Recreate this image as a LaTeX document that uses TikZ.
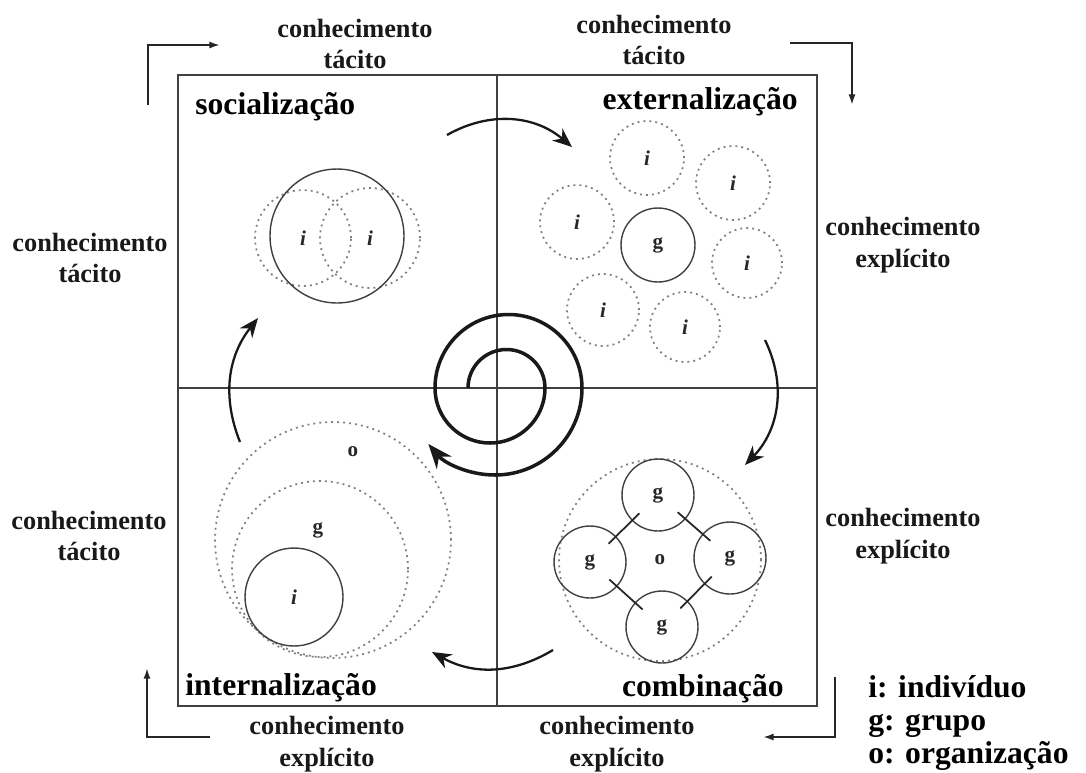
\documentclass[tikz,border=0pt]{standalone}
\usepackage{fontspec}
\setmainfont{Liberation Serif}
\usetikzlibrary{arrows.meta}
\begin{document}
\begin{tikzpicture}[x=0.02cm,y=-0.02cm,
  lbl/.style={font=\bfseries\fontsize{15}{18}\selectfont, align=center, text=black!90, inner sep=0pt},
  quad/.style={font=\bfseries\fontsize{18}{21}\selectfont, inner sep=0pt},
  letter/.style={font=\bfseries\fontsize{12}{12}\selectfont, inner sep=0pt, text=black!85},
  dotc/.style={circle, draw=black!50, dash pattern=on 1.1pt off 2.3pt, line width=1pt, inner sep=0pt, letter},
  solc/.style={circle, draw=black!75, line width=0.8pt, inner sep=0pt, letter},
  cyc/.style={line width=1.3pt, black!90, -{Stealth[length=11pt,width=9pt]}},
  corner/.style={line width=1.1pt, black!85, -{Latex[length=6pt,width=4pt]}},
  spiral/.style={line width=2pt, black!90, -{Stealth[length=14pt,width=11pt]}},
  frame/.style={line width=0.9pt, black!75}
]
\useasboundingbox (0,0) rectangle (1086,772);
% frame and axes
\draw[frame] (178,75) rectangle (817,706);
\draw[frame] (497,75) -- (497,706);
\draw[frame] (178,388) -- (817,388);

% outside labels
\node[lbl] (tl) at (355,44) {conhecimento\\tácito};
\node[lbl] (tr) at (654,40) {conhecimento\\tácito};
\node[lbl] (lu) at (90,258) {conhecimento\\tácito};
\node[lbl] (ru) at (903,245) {conhecimento\\explícito};
\node[lbl] (ll) at (89,536) {conhecimento\\tácito};
\node[lbl] (rl) at (903,536) {conhecimento\\explícito};
\node[lbl] (bl) at (327,744) {conhecimento\\explícito};
\node[lbl] (br) at (617,744) {conhecimento\\explícito};

% quadrant labels
\node[quad, anchor=west] (soc) at (195,107) {socialização};
\node[quad, anchor=east] (ext) at (798,102) {externalização};
\node[quad, anchor=west] (int) at (185,688) {internalização};
\node[quad, anchor=east] (com) at (784,689) {combinação};

% legend
\node[font=\bfseries\fontsize{18}{19}\selectfont, align=left, anchor=west, inner sep=0pt] (leg) at (868,723)
  {i: indivíduo\\g: grupo\\o: organização};

% corner arrows
\coordinate (c1a) at (148,105); \coordinate (c1b) at (220,45);
\coordinate (c2a) at (790,43);  \coordinate (c2b) at (852,105);
\coordinate (c3a) at (210,737); \coordinate (c3b) at (147,668);
\coordinate (c4a) at (835,677); \coordinate (c4b) at (763,737);
\draw[corner] (c1a) |- (c1b);
\draw[corner] (c2a) -| (c2b);
\draw[corner] (c3a) -| (c3b);
\draw[corner] (c4a) |- (c4b);

% socialization circles
\node[dotc, minimum size=1.92cm] (s1) at (303,238) {};
\node[dotc, minimum size=2.0cm] (s2) at (370,238) {};
\node[solc, minimum size=2.68cm] (s0) at (337,236) {};
\node[letter] (si1) at (303,238) {\itshape i};
\node[letter] (si2) at (370,238) {\itshape i};

% externalization circles
\node[solc, minimum size=1.48cm] (eg) at (658,245) {g};
\node[dotc, minimum size=1.48cm] (e1) at (647,158) {\itshape i};
\node[dotc, minimum size=1.48cm] (e2) at (733,183) {\itshape i};
\node[dotc, minimum size=1.48cm] (e3) at (577,222) {\itshape i};
\node[dotc, minimum size=1.40cm] (e4) at (747,263) {\itshape i};
\node[dotc, minimum size=1.44cm] (e5) at (603,310) {\itshape i};
\node[dotc, minimum size=1.40cm] (e6) at (685,327) {\itshape i};

% internalization circles
\node[dotc, minimum size=4.72cm] (io) at (333,540) {};
\node[dotc, minimum size=3.52cm] (ig) at (320,569) {};
\node[solc, minimum size=1.96cm] (ii) at (294,597) {\itshape i};
\node[letter] (iol) at (353,452) {o};
\node[letter] (igl) at (318,530) {g};

% combination circles
\node[dotc, minimum size=4.04cm] (co) at (660,560) {o};
\node[solc, minimum size=1.44cm] (cg1) at (658,495) {g};
\node[solc, minimum size=1.44cm] (cg2) at (590,562) {g};
\node[solc, minimum size=1.44cm] (cg3) at (730,558) {g};
\node[solc, minimum size=1.44cm] (cg4) at (662,627) {g};
\foreach \a/\b in {cg1/cg2, cg1/cg3, cg2/cg4, cg3/cg4}
  \draw[line width=1pt, black!85, shorten <=-6pt, shorten >=-6pt] (\a) -- (\b);

% cycle arrows
\coordinate (t1) at (447,135); \coordinate (t2) at (572,147);
\coordinate (r1) at (765,340); \coordinate (r2) at (745,465);
\coordinate (b1) at (553,650); \coordinate (b2) at (432,652);
\coordinate (l1) at (240,442); \coordinate (l2) at (258,318);
\draw[cyc] (t1) to[bend left=35] (t2);
\draw[cyc] (r1) to[bend left=35] (r2);
\draw[cyc] (b1) to[bend left=30] (b2);
\draw[cyc] (l1) to[bend left=30] (l2);

% spiral
\coordinate (sp0) at (468,388);
\draw[spiral] (sp0) arc[start angle=180, end angle=360, radius=38.5]
  arc[start angle=0, end angle=180, radius=55]
  arc[start angle=180, end angle=360, radius=73.5]
  arc[start angle=0, end angle=140, radius=87];
\end{tikzpicture}
\end{document}
